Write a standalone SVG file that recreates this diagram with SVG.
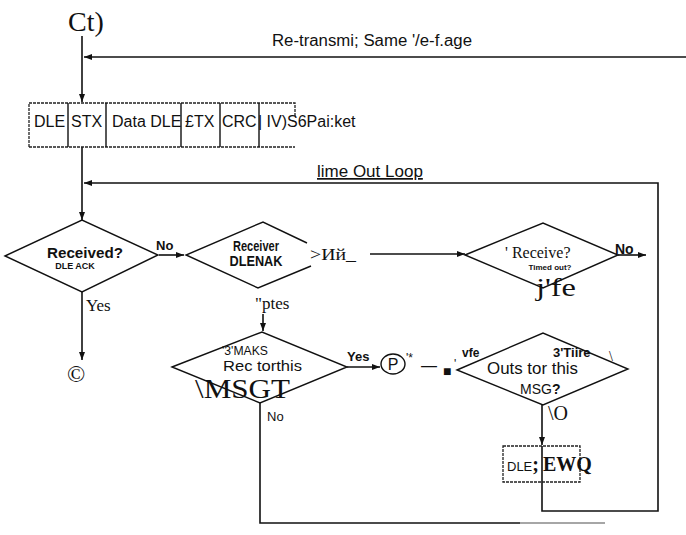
<svg xmlns="http://www.w3.org/2000/svg" width="686" height="535" viewBox="0 0 686 535">
<defs>
<marker id="ah" markerUnits="userSpaceOnUse" markerWidth="9" markerHeight="7" refX="8" refY="3.5" orient="auto">
<path d="M0,0.5 L8,3.5 L0,6.5 z" fill="#111"/>
</marker>
<style>
.ln{fill:none;stroke:#111;stroke-width:1.6}
.sh{fill:none;stroke:#111;stroke-width:1.4}
.dt{fill:none;stroke:#222;stroke-width:1.3;stroke-dasharray:3 1}
.s{font-family:"Liberation Sans",Arial,sans-serif;fill:#111}
.b{font-family:"Liberation Sans",Arial,sans-serif;font-weight:bold;fill:#111}
.r{font-family:"Liberation Serif","Times New Roman",serif;fill:#111}
</style>
</defs>
<rect width="686" height="535" fill="#fff"/>

<g id="connectors">
<path class="ln" d="M82,36 V102" marker-end="url(#ah)"/>
<path class="ln" d="M686,57 H84" marker-end="url(#ah)"/>
<path class="ln" d="M82,147 V220" marker-end="url(#ah)"/>
<path class="ln" d="M542,446 V511 H658 V183 H84" marker-end="url(#ah)"/>
<path class="ln" d="M159,255 H184" marker-end="url(#ah)"/>
<path class="ln" d="M82,292 V360" marker-end="url(#ah)"/>
<path class="ln" d="M370,254 H465" marker-end="url(#ah)"/>
<path class="ln" d="M618,255 H646" marker-end="url(#ah)"/>
<path class="ln" d="M263,314 V331" marker-end="url(#ah)"/>
<path class="ln" d="M347,367 H380" marker-end="url(#ah)"/>
<path class="ln" d="M542,405 V445" marker-end="url(#ah)"/>
<path class="ln" d="M260,403 V523 H520"/>
<path d="M520,523 H605" fill="none" stroke="#888" stroke-width="1.4"/>
</g>

<g id="start">
<text class="r" x="68" y="31" font-size="28">Ct)</text>
</g>

<g id="retransmit-label">
<text class="s" x="272" y="46" font-size="16" textLength="200" lengthAdjust="spacingAndGlyphs">Re-transmi; Same '/e-f.age</text>
</g>

<g id="packet">
<path class="dt" d="M29,147 V103 H295 V116"/>
<path class="dt" d="M29,147 H295"/>
<path class="sh" d="M68,103 V147 M106,103 V147 M181,103 V147 M220,103 V147 M259,103 V147"/>
<text class="s" x="34" y="127" font-size="16">DLE</text>
<text class="s" x="71" y="127" font-size="16">STX</text>
<text class="s" x="112" y="127" font-size="16">Data DLE</text>
<text class="s" x="185" y="127" font-size="16">£TX</text>
<text class="s" x="222" y="127" font-size="16">CRC</text>
<text class="s" x="258" y="127" font-size="16">| IV)S6Pai:ket</text>
</g>

<g id="timeout-label">
<text class="s" x="317" y="177" font-size="17" text-decoration="underline">lime Out Loop</text>
</g>

<g id="received">
<polygon class="sh" points="5,256 82,220 158,255 82,292"/>
<text class="b" x="85" y="258" font-size="15" text-anchor="middle" textLength="76" lengthAdjust="spacingAndGlyphs">Received?</text>
<text class="b" x="75" y="269" font-size="9" text-anchor="middle">DLE ACK</text>
<text class="b" x="156" y="250" font-size="13">No</text>
<text class="r" x="86" y="311" font-size="17">Yes</text>
</g>

<g id="receiver">
<polyline class="sh" points="307,243 263,222 186,255 258,288 311,266"/>
<text class="b" x="256" y="251" font-size="14" text-anchor="middle" textLength="46" lengthAdjust="spacingAndGlyphs">Receiver</text>
<text class="b" x="256" y="266" font-size="14" text-anchor="middle" textLength="53" lengthAdjust="spacingAndGlyphs">DLENAK</text>
<text class="r" x="310" y="260" font-size="17" textLength="46" lengthAdjust="spacingAndGlyphs">&gt;Ий_</text>
<text class="r" x="255" y="309" font-size="17">"ptes</text>
</g>

<g id="receive-timeout">
<polygon class="sh" points="465,255 543,223 618,255 543,288"/>
<text class="r" x="505" y="258" font-size="16">' Receive?</text>
<text class="b" x="550" y="270" font-size="8" text-anchor="middle">Timed out?</text>
<text class="b" x="615" y="254" font-size="14">No</text>
<text class="r" x="536" y="296" font-size="25" textLength="40" lengthAdjust="spacingAndGlyphs">j'fe</text>
</g>

<g id="naks">
<polygon class="sh" points="172,367 262,332 347,367 260,403"/>
<text class="s" x="222" y="355" font-size="13" textLength="46" lengthAdjust="spacingAndGlyphs">'3'MAKS</text>
<text class="s" x="223" y="371" font-size="14" textLength="79" lengthAdjust="spacingAndGlyphs">Rec torthis</text>
<text class="r" x="195" y="398" font-size="27" textLength="95" lengthAdjust="spacingAndGlyphs">\MSGT</text>
<text class="b" x="347" y="361" font-size="13">Yes</text>
<text class="s" x="267" y="421" font-size="13">No</text>
</g>

<g id="p-connector">
<ellipse class="sh" cx="393" cy="364" rx="12" ry="10"/>
<text class="s" x="393" y="370" font-size="16" text-anchor="middle">P</text>
<text class="s" x="406" y="362" font-size="12">'*</text>
<text class="s" x="421" y="371" font-size="16">—</text>
<text class="s" x="443" y="376" font-size="14">■</text>
<text class="s" x="454" y="368" font-size="12">'</text>
</g>

<g id="timeouts">
<polygon class="sh" points="457,370 543,333 628,369 543,405"/>
<text class="b" x="462" y="357" font-size="12">vfe</text>
<text class="b" x="553" y="357" font-size="13">3'Tiire</text>
<text class="r" x="609" y="361" font-size="14">\</text>
<text class="s" x="487" y="374" font-size="16.5" textLength="91" lengthAdjust="spacingAndGlyphs">Outs tor this</text>
<text class="s" x="520" y="394" font-size="14">MSG<tspan font-weight="bold">?</tspan></text>
<text class="r" x="548" y="420" font-size="20">\O</text>
</g>

<g id="dle-eot">
<rect class="dt" x="503" y="446" width="77" height="36"/>
<text class="s" x="507" y="471" font-size="13">DLE<tspan class="r" font-weight="bold" font-size="20">;</tspan></text>
<text class="r" x="543" y="471" font-size="20" font-weight="bold">EWQ</text>
</g>

<g id="end">
<text class="r" x="76" y="382" font-size="24" text-anchor="middle">©</text>
</g>
</svg>
